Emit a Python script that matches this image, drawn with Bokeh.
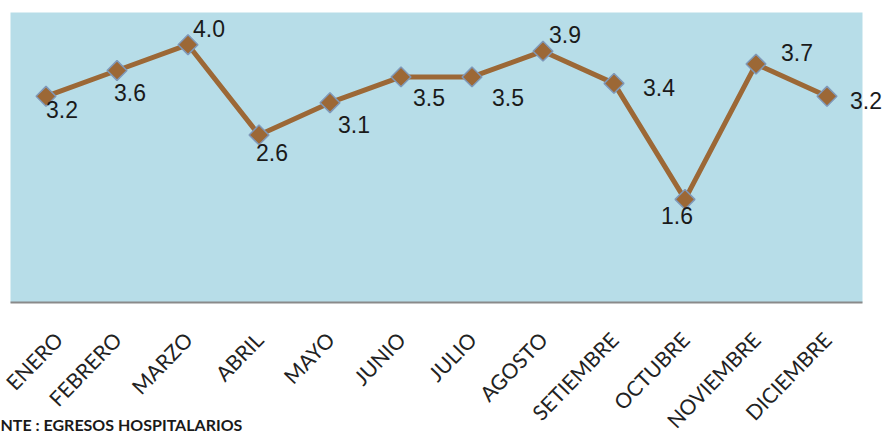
from bokeh.plotting import figure
from bokeh.models import ColumnDataSource, Range1d, Label, LabelSet, BoxAnnotation, FixedTicker
from bokeh.core.properties import value
from bokeh.embed import file_html
from bokeh.resources import INLINE

months = ["ENERO", "FEBRERO", "MARZO", "ABRIL", "MAYO", "JUNIO", "JULIO",
          "AGOSTO", "SETIEMBRE", "OCTUBRE", "NOVIEMBRE", "DICIEMBRE"]
values = [3.2, 3.6, 4.0, 2.6, 3.1, 3.5, 3.5, 3.9, 3.4, 1.6, 3.7, 3.2]
value_labels = ["3.2", "3.6", "4.0", "2.6", "3.1", "3.5", "3.5", "3.9", "3.4", "1.6", "3.7", "3.2"]
footer = "NTE : EGRESOS  HOSPITALARIOS"
y_max = 4.5

# label placement (pixels, right / up), style only
label_dx = [16, 13, 21, 13, 24, 28, 36, 22, 45, -8, 41, 39]
label_dy = [-13, -22, 16, -18, -22, -21, -21, 17, -4, -16, 12, -4]

idx = list(range(len(months)))
src = ColumnDataSource(dict(i=idx, v=values, t=value_labels, dx=label_dx, dy=label_dy))

# layout: plot area spans canvas x 10..862, y 12..302
px_x = 852 / len(months)
px_y = 290 / y_max
p = figure(width=887, height=434, output_backend="svg", toolbar_location=None,
           x_range=Range1d(-0.5 - 10 / px_x, len(months) - 0.5 + 25 / px_x),
           y_range=Range1d(-132 / px_y, y_max + 12 / px_y),
           min_border_left=0, min_border_right=0, min_border_top=0, min_border_bottom=0)
p.background_fill_color = "white"
p.border_fill_color = "white"
p.outline_line_color = None
p.xgrid.grid_line_color = None
p.ygrid.grid_line_color = None
p.yaxis.visible = False

p.add_layout(BoxAnnotation(left=-0.5, right=len(months) - 0.5, bottom=0, top=y_max,
                           fill_color="#B7DDE8", fill_alpha=1.0, line_color=None, level="underlay"))

ax = p.xaxis[0]
ax.fixed_location = 0
ax.bounds = (-0.5, len(months) - 0.5)
ax.ticker = FixedTicker(ticks=idx)
ax.major_label_overrides = {i: m for i, m in zip(idx, months)}
ax.axis_line_color = "#8a8a8a"
ax.axis_line_width = 2
ax.major_tick_line_color = None
ax.minor_tick_line_color = None
ax.major_label_orientation = 0.8
ax.major_label_standoff = 27
ax.major_label_text_font = "Lato"
ax.major_label_text_font_size = "21px"
ax.major_label_text_color = "#222222"

p.line("i", "v", source=src, line_color="#9C6836", line_width=5)
p.scatter("i", "v", source=src, marker="square", angle=0.785398, size=14,
          fill_color="#9C6836", line_color="#7F98B8", line_width=1.5)
p.add_layout(LabelSet(x="i", y="v", text="t", source=src, x_offset="dx", y_offset="dy",
                      text_align="center", text_baseline="middle",
                      text_font=value("Liberation Sans"), text_font_size="23px",
                      text_color="#1a1a1a"))

p.add_layout(Label(x=0, y=10, x_units="screen", y_units="screen", text=footer,
                   text_font="Lato", text_font_style="bold", text_font_size="16px",
                   text_color="#1a1a1a", text_baseline="alphabetic", text_align="left"))

open("out.html", "w").write(file_html(p, INLINE))
